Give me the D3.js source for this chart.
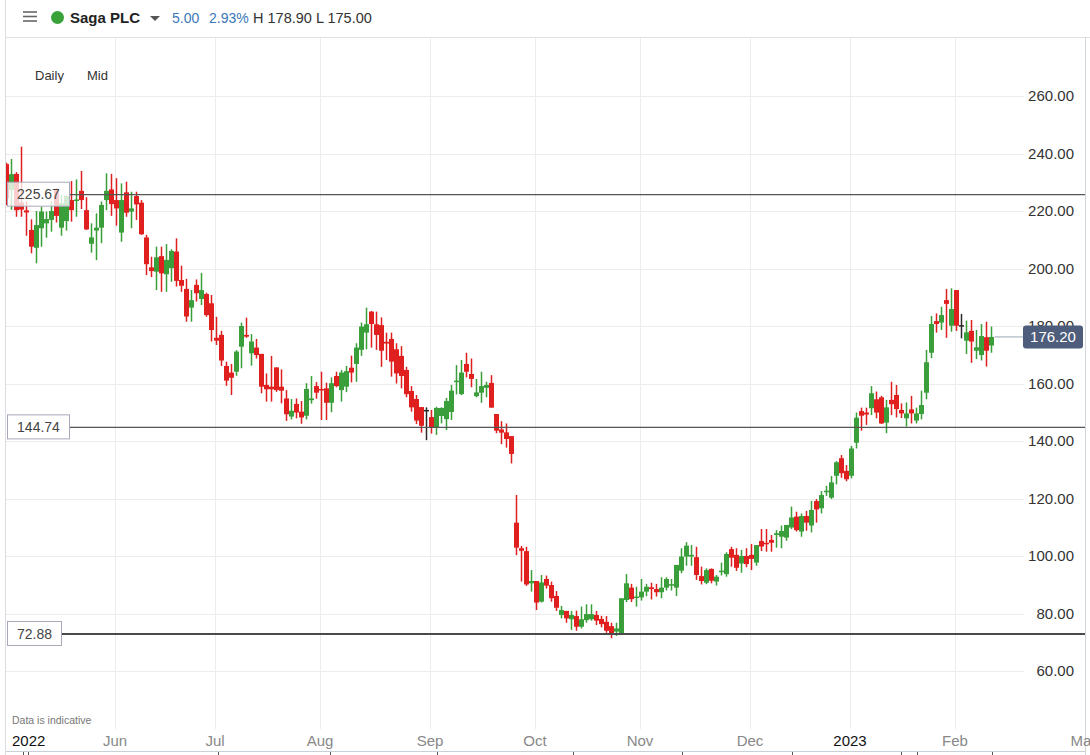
<!DOCTYPE html>
<html><head><meta charset="utf-8">
<script src="https://cdn.jsdelivr.net/npm/d3@7"></script>
<style>
body{margin:0;background:#fff;}
svg{display:block;font-family:"Liberation Sans",Arial,sans-serif;}
</style>
</head><body>
<svg id="chart" width="1090" height="755"></svg>
<script>
// ---------- DATA ----------
const firstDay = "2022-04-29";
const lastDay = "2023-02-10";
const marketHolidays = ["2022-05-02","2022-06-02","2022-06-03","2022-08-29","2022-09-19","2022-12-26","2022-12-27","2023-01-02"];

const openVals = [236.3,227.3,232.9,223.0,220.2,213.4,207.2,214.0,215.7,216.9,227.3,214.2,216.5,223.8,223.7,227.0,220.3,208.6,213.2,214.2,
223.8,227.5,223.8,212.5,226.5,219.8,225.2,222.9,210.8,200.4,198.9,204.3,198.0,200.1,205.9,196.0,192.9,186.4,194.3,189.4,
191.1,187.9,175.9,176.9,166.1,163.8,164.1,172.8,176.9,170.5,172.5,170.3,159.5,158.9,165.6,158.9,154.8,148.5,152.9,150.2,
148.8,154.2,159.1,158.1,158.3,153.3,162.6,157.7,158.9,165.5,166.8,171.7,177.7,185.0,180.6,180.3,174.5,175.5,171.9,169.6,
164.7,157.4,154.6,151.8,150.8,148.3,144.7,148.7,147.6,150.1,160.5,156.3,166.8,163.3,155.6,156.8,158.5,160.2,149.4,144.0,
143.0,141.7,111.6,102.7,101.7,90.5,91.3,84.1,92.0,89.9,86.1,79.5,80.9,78.0,79.1,75.4,77.7,78.0,79.5,78.1,
77.1,75.6,73.7,72.9,84.7,89.0,85.5,85.6,87.6,89.1,88.5,87.4,89.0,89.7,89.0,94.9,99.8,99.8,99.6,93.0,
90.7,95.5,91.1,94.6,93.7,102.4,100.4,97.4,100.0,100.4,97.7,105.2,104.6,105.6,107.3,106.7,106.4,109.9,113.7,108.5,
113.9,110.6,119.1,116.6,122.4,120.3,127.9,134.0,129.6,127.9,139.4,150.4,149.9,151.4,154.5,155.2,146.4,154.3,156.0,150.8,
147.9,151.0,147.1,149.4,156.8,170.7,181.7,181.2,189.0,180.1,192.5,180.3,174.9,178.3,171.4,169.9,176.1,173.2];

const highVals = [236.8,238.1,233.5,242.4,223.3,217.1,220.0,221.5,219.8,223.3,228.0,225.6,225.5,230.4,231.0,233.9,224.8,215.7,219.2,223.3,
233.1,232.9,231.4,229.6,230.2,226.7,226.7,223.8,211.7,204.1,207.6,207.6,208.5,206.7,210.5,201.0,196.4,192.5,196.2,198.5,
191.6,190.8,183.2,178.3,167.6,166.8,171.6,181.2,182.9,177.2,175.5,170.3,163.5,169.6,165.6,164.9,157.7,154.6,154.8,153.9,
160.1,162.6,160.5,164.1,160.3,162.1,164.1,164.7,166.1,169.7,174.0,181.2,186.4,185.2,185.0,183.0,177.7,177.7,174.0,173.0,
165.8,159.1,156.0,151.8,151.7,150.8,151.9,151.7,155.0,159.5,166.4,168.2,170.7,168.7,161.6,164.1,160.6,162.9,149.4,146.9,
146.1,141.7,121.2,103.5,103.2,95.1,91.3,93.4,93.2,91.1,87.8,82.6,80.9,80.9,81.0,82.4,83.2,83.2,80.9,79.2,
79.1,76.8,76.8,85.3,93.7,90.3,89.3,92.0,90.3,90.7,90.3,92.6,92.6,92.0,96.9,102.7,104.8,103.8,103.2,96.3,
95.7,95.7,93.4,97.7,101.3,103.2,102.7,102.1,102.7,104.2,103.8,109.4,109.4,107.3,109.0,110.6,110.8,117.2,115.4,114.8,
115.7,119.2,119.8,122.6,124.4,127.8,133.0,135.1,131.6,138.3,149.9,151.6,151.6,159.1,157.2,155.7,154.3,160.6,159.5,153.1,
153.4,155.7,151.6,157.5,171.7,183.5,184.4,186.7,192.9,193.1,192.5,184.2,181.9,182.1,178.6,180.7,181.5,179.8];

const lowVals = [222.0,220.4,218.0,218.0,211.4,205.3,201.8,207.6,210.7,212.8,216.0,211.4,213.2,216.3,218.0,220.7,213.4,205.5,202.9,208.8,
220.3,218.3,214.9,209.3,218.0,214.0,216.9,211.7,197.7,197.0,192.5,191.9,191.9,195.4,193.7,191.9,181.5,181.5,188.5,187.3,
183.2,174.6,173.4,166.1,159.2,156.0,162.7,165.3,175.9,166.2,168.7,156.6,153.7,153.7,157.1,153.1,147.0,147.5,147.9,146.0,
147.5,153.0,154.7,147.3,147.3,150.0,158.7,153.7,157.0,160.4,160.6,169.6,171.9,172.5,171.7,165.8,168.2,162.4,160.0,158.3,
155.2,150.2,145.9,142.9,140.3,142.6,142.1,146.1,143.8,147.3,156.2,156.0,162.1,158.7,155.2,153.3,155.2,151.6,142.7,138.9,
137.7,132.2,100.3,91.1,89.6,87.6,81.2,83.8,88.7,84.1,80.9,78.3,76.8,74.3,74.0,74.8,76.8,77.5,76.0,75.2,
73.3,71.4,72.2,72.5,84.0,84.0,82.4,84.5,86.0,84.9,85.9,85.3,88.0,88.0,86.1,94.0,96.6,96.6,91.7,90.1,
90.2,90.5,89.7,93.2,92.8,96.3,94.8,94.2,96.1,95.1,96.6,101.7,101.5,101.5,102.9,102.7,105.3,109.4,108.5,106.7,
108.8,108.2,111.6,114.8,120.9,119.8,124.9,127.2,126.0,127.0,137.4,143.6,145.6,149.0,147.9,145.9,142.7,149.0,148.2,148.0,
145.0,146.1,146.1,147.5,154.5,168.8,177.7,178.6,175.9,178.0,178.3,175.7,170.3,167.2,168.5,168.0,165.9,170.7];

const closeVals = [224.4,232.8,220.3,220.5,219.5,207.6,215.1,219.8,217.2,220.0,218.3,222.7,225.2,220.3,224.0,223.8,213.6,210.8,214.2,222.1,
227.0,222.4,220.9,223.8,219.4,220.9,222.3,211.9,201.5,199.1,203.9,198.3,203.0,206.1,195.7,194.0,183.3,189.0,191.4,192.5,
183.8,178.6,174.9,168.0,161.0,162.0,171.1,180.0,176.3,174.6,169.9,158.9,158.0,158.0,157.7,157.5,149.3,150.5,149.9,148.2,
158.1,154.8,156.8,157.7,153.3,160.1,159.1,163.8,164.3,163.8,172.5,179.8,180.6,180.7,176.9,171.4,173.9,167.6,163.5,162.6,
156.3,151.7,147.1,145.3,150.8,144.7,151.5,151.5,153.9,157.5,161.0,163.8,164.1,161.6,156.9,159.1,159.5,151.6,143.6,142.9,
140.7,135.5,102.9,101.8,90.1,91.3,83.8,90.8,89.7,85.3,82.0,81.2,78.3,79.5,75.4,78.0,79.8,79.8,77.5,76.3,
74.0,73.1,74.8,85.3,90.5,85.0,85.9,87.6,89.3,88.5,87.4,89.0,92.0,90.2,96.9,99.8,103.6,100.4,93.4,91.3,
95.1,91.4,92.8,94.9,100.7,99.4,95.9,100.0,97.2,99.0,103.8,103.3,104.1,104.6,107.9,108.7,110.8,113.4,109.0,113.9,
111.6,116.0,116.2,121.2,122.7,125.6,132.6,128.8,126.7,137.4,148.1,148.8,149.2,156.6,149.9,146.1,151.7,152.8,151.1,149.6,
149.6,149.6,149.6,152.5,167.4,180.7,180.7,183.8,187.7,185.9,180.1,180.3,177.8,174.6,172.6,176.5,171.4,176.2];

const yTickValues = [60,80,100,120,140,160,180,200,220,240,260];
const levelValues = [225.67,144.74,72.88];
const lastPrice = 176.20;
const monthNames = ["Jan","Feb","Mar","Apr","May","Jun","Jul","Aug","Sep","Oct","Nov","Dec"];

// ---------- BUILD ----------
const hol = new Set(marketHolidays);
const fmt = d3.timeFormat("%Y-%m-%d");
const dates = d3.timeDay.range(new Date(firstDay+"T00:00:00"), d3.timeDay.offset(new Date(lastDay+"T00:00:00"),1))
  .filter(d => d.getDay()!==0 && d.getDay()!==6 && !hol.has(fmt(d)));
const data = dates.map((d,i)=>({date:d,o:openVals[i],h:highVals[i],l:lowVals[i],c:closeVals[i]}));

const svg = d3.select("#chart");
const W=1090,H=755;
const plotL=6, plotR=1085, plotT=38, plotB=729;
const x = d3.scaleLinear().domain([0, data.length-1]).range([6.5, 6.5+5*(data.length-1)]);
const y = d3.scaleLinear().domain([60,260]).range([671,96]);

// month ticks: first trading day of each month (first month shows the year, pinned left)
const ticks=[];
let firstTick=true;
data.forEach((d,i)=>{
  if(i>0 && d.date.getMonth()!==data[i-1].date.getMonth()){
    const m=d.date.getMonth();
    const isYear = m===0 || firstTick;
    ticks.push({i, label: isYear ? String(d.date.getFullYear()) : monthNames[m], year:isYear, pinned:firstTick});
    firstTick=false;
  }
});
ticks.push({i: data.length-1+18.7, label:"Mar", year:false, pinned:false});

// frame lines
svg.append("line").attr("x1",5.5).attr("x2",5.5).attr("y1",0).attr("y2",H).attr("stroke","#d9dee2");
svg.append("line").attr("x1",5).attr("x2",W).attr("y1",37.5).attr("y2",37.5).attr("stroke","#e0e0e0");

// horizontal gridlines
svg.append("g").selectAll("line").data(yTickValues).join("line")
  .attr("x1",plotL).attr("x2",1024).attr("y1",d=>Math.round(y(d))+0.5).attr("y2",d=>Math.round(y(d))+0.5)
  .attr("stroke","#ececec");

// vertical gridlines
svg.append("g").selectAll("line").data(ticks.filter(t=>!t.pinned && x(t.i)<plotR)).join("line")
  .attr("x1",t=>Math.round(x(t.i)-1.5)+0.5).attr("x2",t=>Math.round(x(t.i)-1.5)+0.5)
  .attr("y1",plotT).attr("y2",plotB).attr("stroke","#ececec");

// Daily / Mid box
svg.append("rect").attr("x",6).attr("y",58).attr("width",109).attr("height",37).attr("fill","#fff");
svg.append("text").attr("x",35).attr("y",80).attr("font-size",13).attr("fill","#333").text("Daily");
svg.append("text").attr("x",87).attr("y",80).attr("font-size",13).attr("fill","#333").text("Mid");

// candles
svg.append("clipPath").attr("id","pc").append("rect").attr("x",plotL).attr("y",plotT).attr("width",plotR-plotL).attr("height",plotB-plotT);
const cg = svg.append("g").attr("clip-path","url(#pc)");
const col = d => d.c>d.o ? "#3a9f3a" : (d.c<d.o ? "#e01f1f" : "#2a2a2a");
const cs = cg.selectAll("g").data(data).join("g");
cs.append("rect").attr("x",(d,i)=>x(i)-0.75).attr("width",1.5)
  .attr("y",d=>y(d.h)).attr("height",d=>Math.max(1,y(d.l)-y(d.h))).attr("fill",col);
cs.append("rect").attr("x",(d,i)=>x(i)-2.5).attr("width",5)
  .attr("y",d=>y(Math.max(d.o,d.c))).attr("height",d=>Math.max(1.5,Math.abs(y(d.o)-y(d.c)))).attr("fill",col);

// reference levels
const boxW = [62,62,54];
levelValues.forEach((v,k)=>{
  const yy = y(v);
  svg.append("line").attr("x1",7+boxW[k]).attr("x2",plotR).attr("y1",yy).attr("y2",yy)
    .attr("stroke",k===2?"#4a4a4a":"#555").attr("stroke-width",k===2?2:1.2);
  svg.append("rect").attr("x",7.5).attr("y",yy-12.5).attr("width",boxW[k]).attr("height",24)
    .attr("fill","rgba(255,255,255,0.78)").attr("stroke","#a9a8ba").attr("stroke-width",1);
  svg.append("text").attr("x",7.5+boxW[k]/2).attr("y",yy-0.5).attr("dy","0.36em").attr("text-anchor","middle")
    .attr("font-size",14).attr("fill","#444").text(v.toFixed(2));
});

// last price line
const ly = y(lastPrice);
svg.append("line").attr("x1",x(data.length-1)+3).attr("x2",1023).attr("y1",ly).attr("y2",ly).attr("stroke","#9aa6b4");

// right axis labels
svg.append("g").selectAll("text").data(yTickValues).join("text")
  .attr("x",1074).attr("y",d=>y(d)).attr("dy","0.36em").attr("text-anchor","end")
  .attr("font-size",15).attr("fill","#333").text(d=>d.toFixed(2));

// last price label
svg.append("rect").attr("x",1023).attr("y",ly-11.5).attr("width",60).attr("height",23).attr("rx",3).attr("fill","#4d5d7b");
svg.append("text").attr("x",1053).attr("y",ly).attr("dy","0.36em").attr("text-anchor","middle")
  .attr("font-size",15).attr("fill","#fff").text(lastPrice.toFixed(2));

// right border
svg.append("line").attr("x1",1085.5).attr("x2",1085.5).attr("y1",37).attr("y2",H).attr("stroke","#cfd6dc");

// x axis labels
svg.append("text").attr("x",12).attr("y",724).attr("font-size",10.5).attr("fill","#777").text("Data is indicative");
svg.append("g").selectAll("text").data(ticks).join("text")
  .attr("x",t=> t.pinned ? 12 : x(t.i)-1.5)
  .attr("text-anchor",t=> t.pinned ? "start":"middle")
  .attr("y",746).attr("font-size",15)
  .attr("fill",t=>t.year?"#111":"#888").text(t=>t.label);

// navigator strip (bottom)
svg.append("line").attr("x1",6).attr("x2",1085).attr("y1",751.5).attr("y2",751.5).attr("stroke","#c9d1d8");
[23,28,218,330,437,573,682,792,901,917,992].forEach(px=>{
  svg.append("line").attr("x1",px+0.5).attr("x2",px+0.5).attr("y1",752).attr("y2",755).attr("stroke","#555");
});

// header
const hdr = svg.append("g");
[12,16.5,21].forEach(yy=>hdr.append("line").attr("x1",23).attr("x2",37).attr("y1",yy).attr("y2",yy).attr("stroke","#666").attr("stroke-width",1.6));
hdr.append("circle").attr("cx",57.5).attr("cy",17.5).attr("r",6.5).attr("fill","#38a238");
hdr.append("text").attr("x",70).attr("y",23).attr("font-size",15).attr("font-weight","bold").attr("fill","#222").text("Saga PLC");
hdr.append("path").attr("d","M150,16 L160,16 L155,21 Z").attr("fill","#555");
hdr.append("text").attr("x",172).attr("y",23).attr("font-size",14).attr("fill","#3a78b8").text("5.00");
hdr.append("text").attr("x",209).attr("y",23).attr("font-size",14).attr("fill","#3a78b8").text("2.93%");
hdr.append("text").attr("x",253).attr("y",23).attr("font-size",14.5).attr("fill","#333").text("H 178.90 L 175.00");
</script>
</body></html>
